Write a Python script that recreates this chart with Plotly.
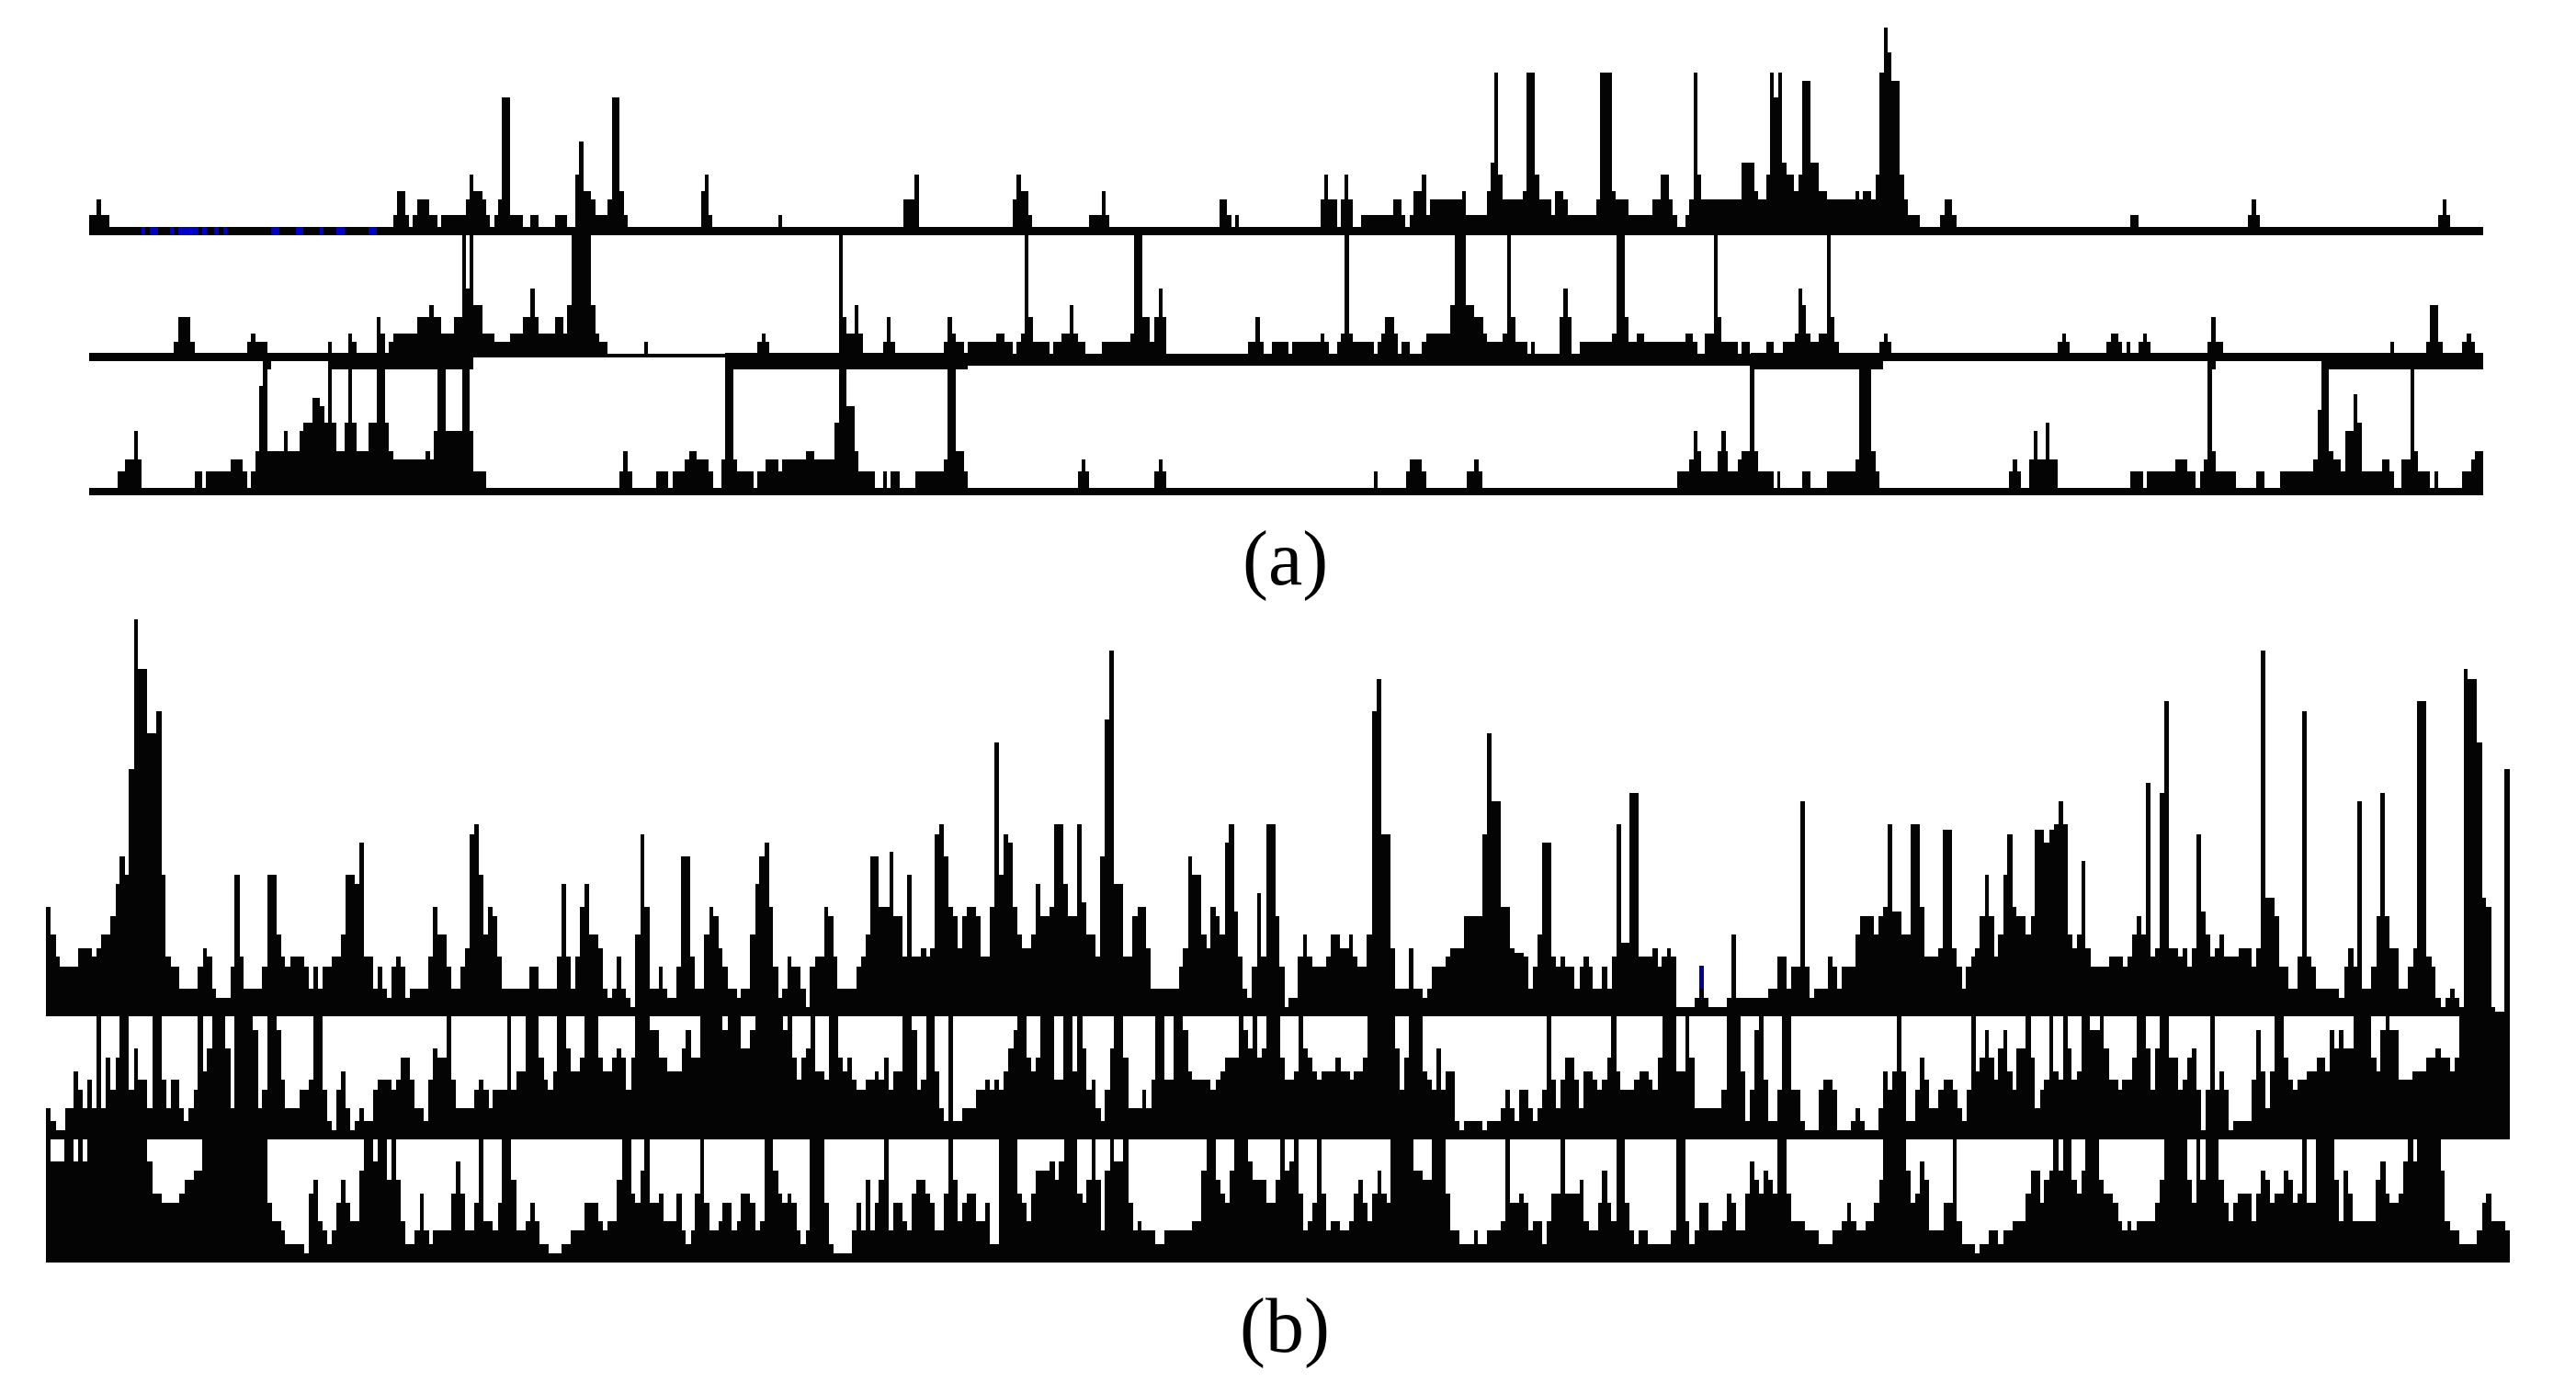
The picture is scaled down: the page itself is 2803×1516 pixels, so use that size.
import plotly.graph_objects as go

A1_LEFT = [(12,642),(27,590),(35,642),(50,682),(588,642),(596,563),(611,642),(618,682),(626,642),(634,590),(657,642),(672,682),(680,642),(726,590),(734,510),(741,563),(757,590),(765,642),(772,682),(780,642),(788,590),(795,257),(810,642),(834,682),(849,642),(864,682),(895,642),(918,682),(934,510),(941,403),(949,563),(964,590),(972,642),(995,590),(1003,257),(1018,563),(1026,642),(1033,682),(1172,563),(1179,510),(1187,642),(1194,682),(1318,642),(1325,682),(1556,590),(1568,None)]
A1_MID = [(17,590),(27,510),(35,682),(213,590),(220,510),(228,563),(243,642),(250,682),(358,642),(381,563),(389,642),(396,682),(604,590),(619,642),(627,682),(634,642),(642,682),(796,590),(803,510),(811,590),(827,682),(834,590),(842,510),(849,590),(857,682),(873,642),(934,590),(950,642),(957,682),(965,642),(972,563),(988,510),(996,642),(1003,590),(1065,563),(1072,642),(1111,563),(1119,470),(1126,177),(1133,510),(1141,590),(1179,563),(1187,177),(1203,510),(1210,590),(1233,642),(1241,563),(1256,590),(1264,642),(1318,590),(1326,177),(1348,563),(1356,590),(1379,642),(1425,590),(1441,510),(1456,590),(1464,642),(1472,682),(1487,642),(1495,590),(1503,177),(1510,510),(1518,590),(1568,None)]
A1_RIGHT = [(52,590),(78,470),(102,563),(110,590),(125,510),(132,177),(140,257),(148,177),(155,470),(163,510),(178,563),(186,510),(193,204),(209,470),(225,563),(240,590),(294,563),(301,590),(309,563),(324,590),(332,510),(340,177),(348,30),(355,110),(362,204),(378,510),(386,590),(394,642),(416,682),(455,642),(463,590),(478,642),(486,682),(816,642),(831,682),(1038,642),(1046,590),(1054,642),(1061,682),(1399,642),(1407,590),(1415,642),(1422,682),(1484,None)]
A1_BLUE = [(112,119),(128,143),(166,173),(181,219),(227,235),(250,258),(266,273),(358,373),(404,419),(450,457),(481,496),(542,557)]

A2_LEFT = [(12,434),(173,395),(181,315),(204,395),(212,434),(312,395),(319,368),(327,395),(350,434),(465,395),(473,434),(504,368),(511,395),(519,434),(558,315),(565,368),(573,434),(581,395),(588,368),(634,315),(657,275),(665,315),(680,368),(703,315),(719,48),(726,222),(733,48),(741,275),(757,368),(780,395),(811,368),(834,315),(849,222),(857,315),(864,368),(895,315),(911,368),(918,275),(926,48),(964,275),(972,368),(980,395),(995,434),(1064,395),(1071,434),(1279,395),(1287,368),(1294,395),(1302,434),(1433,48),(1441,315),(1448,368),(1464,275),(1471,368),(1479,434),(1517,395),(1525,315),(1532,395),(1540,434),(1568,None)]
A2_MID = [(17,434),(82,395),(89,315),(97,368),(105,395),(120,434),(128,395),(182,368),(197,395),(213,434),(220,395),(228,368),(236,48),(243,315),(251,395),(282,434),(289,395),(305,368),(320,275),(328,368),(336,395),(351,434),(382,395),(436,368),(443,48),(458,315),(473,395),(481,315),(489,222),(497,315),(504,434),(658,395),(673,315),(681,395),(688,434),(704,395),(735,434),(742,395),(796,368),(804,395),(812,434),(827,395),(835,368),(842,48),(850,368),(858,395),(897,434),(904,395),(912,368),(919,315),(935,368),(942,434),(950,395),(965,434),(988,395),(996,368),(1042,275),(1050,48),(1072,275),(1088,315),(1104,368),(1111,395),(1141,368),(1149,48),(1157,315),(1165,395),(1188,434),(1195,395),(1203,434),(1249,315),(1257,222),(1264,315),(1272,434),(1287,395),(1349,368),(1357,48),(1372,315),(1380,395),(1395,368),(1410,395),(1488,368),(1502,395),(1510,434),(1525,368),(1541,48),(1549,315),(1556,395),(1568,None)]
A2_RIGHT = [(52,395),(71,434),(78,395),(94,434),(125,395),(140,434),(156,395),(179,368),(186,222),(193,275),(201,368),(209,395),(225,368),(240,48),(248,315),(255,395),(263,434),(340,395),(348,368),(355,395),(362,434),(678,395),(686,368),(693,395),(700,434),(770,395),(778,368),(793,395),(800,434),(808,395),(815,434),(831,395),(839,368),(847,395),(854,434),(962,395),(969,315),(977,395),(992,434),(1308,395),(1315,434),(1376,395),(1384,275),(1399,395),(1407,434),(1445,395),(1453,368),(1461,395),(1469,434),(1484,None)]
# lower edge of the thick middle band in (a)
A2_UNDER_LEFT = [(12,460),(342,487),(357,460),(465,487),(740,447),(1217,487),(1568,None)]
A2_UNDER_MID = [(17,487),(127,473),(1568,None)]
A2_UNDER_RIGHT = [(52,473),(95,487),(347,460),(962,487),(977,460),(1177,487),(1484,None)]

A3_LEFT = [(12,873),(66,820),(81,780),(97,687),(104,780),(112,873),(212,820),(227,873),(234,820),(281,780),(304,820),(312,873),(319,820),(327,753),(335,540),(342,460),(350,753),(381,687),(389,753),(412,687),(419,660),(435,580),(450,607),(458,660),(465,460),(473,660),(481,753),(496,660),(504,487),(511,660),(519,753),(542,660),(557,487),(573,660),(581,753),(588,780),(650,753),(658,780),(665,687),(673,487),(688,687),(719,487),(733,687),(741,820),(765,873),(1018,820),(1025,753),(1033,820),(1041,873),(1087,820),(1110,873),(1118,820),(1141,780),(1149,753),(1164,780),(1187,820),(1195,873),(1210,780),(1218,447),(1233,780),(1241,820),(1272,873),(1279,820),(1295,780),(1318,820),(1325,780),(1371,753),(1387,780),(1425,660),(1433,487),(1448,607),(1463,753),(1471,820),(1502,873),(1517,820),(1525,873),(1532,820),(1548,873),(1568,None)]
A3_MID = [(17,873),(28,820),(82,780),(89,473),(105,753),(120,820),(128,873),(336,820),(343,780),(350,820),(358,873),(481,820),(489,780),(497,820),(504,873),(897,820),(904,873),(958,820),(965,780),(988,820),(996,873),(1073,820),(1088,780),(1096,820),(1103,873),(1472,820),(1495,780),(1503,687),(1510,753),(1518,820),(1549,753),(1556,687),(1564,753),(1568,None)]
A3_RIGHT = [(52,820),(71,780),(79,753),(94,473),(102,753),(110,820),(140,873),(147,820),(152,873),(194,820),(209,873),(240,820),(294,780),(301,487),(324,753),(332,820),(340,873),(585,820),(593,780),(601,820),(608,873),(624,780),(632,687),(639,780),(655,660),(662,780),(678,873),(816,820),(839,873),(847,820),(901,780),(924,820),(939,873),(947,820),(954,780),(962,460),(970,753),(977,820),(1016,873),(1054,820),(1069,873),(1100,820),(1162,780),(1170,620),(1177,460),(1192,753),(1200,780),(1215,820),(1223,687),(1238,567),(1246,660),(1254,820),(1292,780),(1307,820),(1315,873),(1330,780),(1346,487),(1353,753),(1361,820),(1384,873),(1392,820),(1399,873),(1445,820),(1461,780),(1469,753),(1484,None)]

B1_LEFT = [(17,701),(26,766),(35,818),(43,840),(77,798),(103,818),(111,798),(120,766),(137,722),(146,648),(154,584),(163,627),(171,380),(180,29),(188,146),(205,295),(222,243),(231,627),(239,818),(248,840),(265,893),(299,840),(308,798),(316,818),(325,893),(333,914),(359,840),(367,627),(376,818),(384,893),(418,840),(427,627),(444,766),(453,818),(461,840),(470,818),(496,840),(504,893),(513,840),(521,893),(530,840),(547,818),(564,766),(573,627),(590,648),(598,552),(607,818),(624,893),(632,840),(641,893),(650,914),(658,840),(667,818),(675,840),(684,914),(692,893),(726,818),(735,701),(743,766),(760,840),(769,893),(786,840),(795,798),(803,531),(811,509),(820,627),(828,766),(837,701),(846,722),(854,818),(863,893),(914,840),(931,893),(965,818),(973,648),(982,818),(991,893),(999,818),(1008,701),(1016,648),(1025,766),(1042,798),(1050,893),(1059,914),(1067,893),(1076,818),(1084,893),(1093,914),(1101,936),(1110,766),(1119,531),(1127,701),(1136,893),(1153,840),(1161,893),(1170,914),(1187,840),(1195,584),(1212,818),(1221,893),(1238,766),(1247,701),(1255,722),(1264,798),(1272,840),(1281,893),(1298,914),(1306,893),(1323,766),(1332,648),(1340,584),(1349,552),(1358,701),(1366,840),(1375,914),(1383,893),(1392,818),(1400,840),(1417,893),(1426,936),(1434,840),(1443,818),(1460,701),(1468,722),(1477,818),(1485,893),(1520,840),(1528,818),(1537,766),(1545,584),(1562,701),(1568,None)]
B1_MID = [(17,701),(30,573),(38,722),(55,818),(63,627),(72,818),(89,798),(98,818),(106,798),(115,531),(123,509),(131,584),(140,701),(149,722),(157,798),(165,722),(174,701),(191,722),(199,818),(216,701),(225,317),(233,627),(242,531),(251,552),(259,701),(268,766),(276,798),(293,766),(302,648),(310,722),(327,701),(336,509),(353,648),(361,722),(379,509),(387,690),(396,766),(413,818),(421,584),(430,264),(438,103),(447,648),(464,818),(481,722),(490,701),(507,798),(515,893),(567,840),(575,798),(584,584),(592,627),(609,766),(618,798),(626,701),(635,722),(643,766),(652,552),(660,509),(669,712),(677,818),(686,893),(694,914),(703,840),(712,669),(720,818),(729,509),(746,722),(754,840),(763,936),(771,914),(788,818),(797,766),(805,818),(814,840),(840,818),(848,766),(865,798),(882,766),(890,818),(899,840),(916,766),(925,243),(934,168),(942,531),(959,798),(968,893),(994,798),(1002,893),(1019,914),(1028,893),(1036,840),(1062,818),(1070,798),(1096,722),(1130,531),(1139,295),(1147,455),(1164,701),(1181,798),(1190,808),(1207,818),(1215,893),(1224,840),(1233,766),(1241,552),(1258,818),(1267,840),(1275,818),(1284,840),(1301,893),(1310,840),(1318,818),(1327,840),(1335,893),(1352,840),(1361,893),(1370,818),(1378,509),(1387,786),(1403,435),(1420,818),(1446,798),(1455,840),(1463,818),(1472,798),(1480,818),(1489,936),(1523,914),(1532,893),(1540,914),(1549,936),(1568,None)]
B1_RIGHT = [(51,936),(66,914),(75,766),(83,914),(143,893),(160,818),(177,893),(186,840),(203,455),(211,840),(220,914),(228,893),(254,818),(262,840),(271,893),(280,840),(305,766),(314,722),(339,766),(348,722),(356,701),(365,509),(373,712),(390,766),(407,509),(424,701),(433,818),(459,798),(467,520),(484,798),(493,840),(502,893),(510,840),(519,818),(527,798),(536,722),(545,627),(553,722),(562,818),(570,766),(579,627),(587,531),(596,701),(604,722),(621,766),(630,722),(638,520),(655,552),(664,520),(673,509),(681,455),(690,509),(698,766),(707,798),(715,766),(724,595),(732,798),(741,840),(775,818),(801,840),(809,818),(818,766),(826,722),(835,766),(843,412),(852,818),(860,798),(869,435),(878,221),(886,798),(903,818),(912,798),(920,840),(929,798),(938,531),(946,712),(955,766),(963,818),(972,798),(980,766),(989,818),(1015,798),(1040,840),(1049,798),(1057,103),(1066,680),(1083,722),(1091,840),(1108,893),(1125,818),(1134,243),(1142,818),(1151,840),(1159,893),(1202,914),(1211,840),(1219,798),(1228,840),(1236,455),(1245,893),(1262,840),(1271,722),(1279,435),(1287,722),(1296,798),(1313,893),(1330,840),(1339,798),(1347,221),(1364,818),(1373,840),(1381,914),(1390,936),(1399,914),(1407,893),(1416,914),(1424,936),(1433,146),(1441,168),(1458,317),(1467,680),(1475,701),(1484,936),(1492,947),(1509,380),(1518,None)]
B1_BLUE = [(1532,1540)]

B2_LEFT = [(17,1171),(26,1203),(35,1223),(52,1171),(69,1085),(77,1128),(86,1171),(94,1106),(103,1171),(111,957),(120,1171),(128,1053),(137,1128),(146,1053),(154,957),(171,1128),(180,1032),(188,1106),(205,1171),(214,957),(231,1106),(240,1171),(248,1106),(265,1171),(273,1203),(282,1171),(291,1128),(299,957),(308,1085),(316,1032),(325,957),(350,1032),(359,1171),(367,957),(401,990),(410,1171),(418,1128),(427,957),(444,990),(453,1106),(461,1171),(487,1128),(504,1106),(513,957),(530,1128),(538,1203),(547,1223),(556,1128),(564,1085),(573,1171),(581,1223),(590,1203),(598,1171),(607,1203),(624,1128),(632,1106),(658,1128),(667,1106),(675,1053),(692,1106),(700,1171),(718,1203),(726,1106),(735,1032),(743,1053),(760,957),(769,1106),(778,1171),(812,1128),(820,1106),(829,1128),(838,1171),(846,1128),(872,957),(880,1128),(889,1085),(906,957),(931,1053),(940,1106),(948,1128),(957,1085),(965,957),(982,1032),(991,1085),(1008,1053),(1016,957),(1042,1053),(1050,1085),(1067,1053),(1076,1032),(1084,1053),(1093,1128),(1102,1053),(1110,957),(1136,990),(1153,1053),(1170,1085),(1196,1032),(1204,990),(1213,1053),(1230,957),(1272,990),(1281,957),(1306,1032),(1323,990),(1332,957),(1384,990),(1392,957),(1401,1053),(1409,1106),(1418,1053),(1426,1032),(1435,957),(1443,1085),(1460,1106),(1469,957),(1486,1053),(1494,1085),(1503,1053),(1511,1106),(1520,1128),(1537,1106),(1554,1085),(1562,1106),(1568,None)]
B2_MID = [(17,1106),(20,1053),(29,1128),(38,1085),(55,957),(72,990),(81,1128),(89,1106),(98,957),(114,1085),(123,1171),(132,1203),(140,957),(148,1203),(165,1171),(191,1128),(208,1106),(217,1128),(225,1106),(234,1128),(242,1085),(251,1032),(260,990),(268,957),(285,1053),(294,1085),(302,1053),(311,957),(336,1106),(353,957),(370,1085),(379,957),(388,1032),(396,1128),(405,1106),(413,1171),(422,1203),(430,1128),(439,1032),(447,957),(464,1053),(473,1171),(499,1128),(507,1171),(516,1106),(524,957),(541,1106),(558,957),(575,990),(584,1085),(592,1106),(626,1128),(635,1106),(644,1085),(652,1053),(678,957),(687,990),(695,1032),(704,957),(712,1053),(721,1032),(729,957),(755,1053),(764,1106),(781,1085),(789,957),(798,1032),(807,1053),(815,1085),(824,1106),(832,1085),(858,1053),(867,1085),(884,1106),(892,1085),(909,1053),(917,957),(968,1032),(977,1128),(985,1053),(994,957),(1019,1085),(1028,1106),(1036,1128),(1045,1032),(1053,1128),(1062,1085),(1079,1203),(1088,1223),(1096,1203),(1130,1223),(1139,1203),(1164,1171),(1173,1128),(1181,1171),(1190,1203),(1198,1128),(1215,1171),(1224,1203),(1232,1171),(1241,1128),(1250,957),(1258,1106),(1267,1171),(1275,1106),(1284,1053),(1301,1106),(1309,1171),(1318,1085),(1335,1106),(1343,1128),(1352,1106),(1361,1053),(1369,957),(1378,1085),(1386,1128),(1412,1106),(1421,1085),(1438,1106),(1446,1128),(1455,1053),(1464,957),(1489,1085),(1506,957),(1514,1053),(1523,1171),(1568,None)]
B2_RIGHT = [(51,1171),(57,1128),(66,957),(92,1085),(100,1203),(109,1128),(117,990),(126,957),(135,1106),(143,1203),(160,1128),(169,957),(186,1128),(203,1203),(212,1223),(237,1128),(246,1106),(262,1128),(271,1223),(297,1203),(305,1171),(314,1203),(322,1223),(348,1171),(357,1085),(365,1128),(373,1085),(382,957),(390,1085),(399,1203),(416,1128),(425,1053),(433,1106),(442,1171),(459,1128),(468,1106),(485,1128),(494,1171),(502,1203),(511,1128),(519,957),(528,1085),(536,1053),(545,990),(553,1053),(562,1106),(570,1032),(579,990),(587,1085),(596,1128),(604,1032),(621,957),(630,1053),(638,1171),(647,1128),(655,1106),(664,957),(672,1085),(681,1106),(690,957),(698,1032),(706,1106),(715,1085),(724,957),(740,990),(758,957),(766,1032),(775,1106),(792,1128),(800,1106),(818,1053),(826,957),(843,1032),(852,1128),(860,1032),(869,957),(886,1053),(903,1128),(911,1106),(920,1053),(929,1032),(937,1128),(946,1223),(954,1128),(963,957),(971,1128),(980,1085),(988,1128),(997,1223),(1005,1203),(1040,1106),(1048,990),(1057,1085),(1066,1171),(1074,1085),(1083,957),(1100,1053),(1108,1106),(1117,1128),(1125,1106),(1142,1085),(1160,1053),(1176,1085),(1185,990),(1193,1032),(1202,990),(1210,1032),(1228,957),(1262,1053),(1271,1085),(1279,990),(1288,957),(1296,990),(1312,1106),(1338,1085),(1364,1053),(1381,1032),(1390,1053),(1407,1085),(1416,1053),(1424,957),(1518,None)]

B3_LEFT = [(17,1245),(26,1298),(51,1245),(68,1298),(77,1245),(85,1298),(94,1245),(205,1298),(214,1373),(231,1395),(265,1373),(274,1341),(291,1320),(307,1245),(427,1395),(436,1437),(453,1459),(461,1491),(496,1512),(504,1373),(513,1341),(521,1437),(530,1459),(538,1491),(547,1459),(556,1395),(564,1341),(573,1395),(581,1437),(598,1320),(607,1245),(624,1298),(632,1245),(649,1341),(658,1245),(666,1341),(675,1437),(684,1491),(701,1459),(710,1373),(718,1459),(727,1491),(735,1459),(769,1373),(778,1298),(786,1373),(795,1459),(812,1395),(820,1245),(829,1437),(846,1459),(855,1395),(863,1245),(880,1341),(889,1459),(906,1437),(915,1395),(923,1437),(932,1491),(949,1512),(974,1491),(991,1459),(1016,1395),(1042,1437),(1050,1459),(1059,1437),(1076,1341),(1085,1245),(1102,1373),(1110,1395),(1119,1320),(1127,1245),(1136,1395),(1153,1373),(1162,1437),(1187,1373),(1196,1459),(1204,1491),(1213,1459),(1221,1373),(1230,1245),(1238,1395),(1247,1459),(1264,1437),(1272,1395),(1289,1459),(1298,1437),(1306,1373),(1323,1395),(1332,1459),(1341,1437),(1349,1245),(1366,1320),(1375,1373),(1383,1395),(1392,1373),(1400,1395),(1409,1459),(1417,1491),(1426,1459),(1434,1245),(1460,1395),(1469,1491),(1477,1512),(1511,1459),(1520,1395),(1528,1459),(1537,1341),(1545,1459),(1554,1395),(1562,1341),(1568,None)]
B3_MID = [(17,1341),(20,1245),(29,1459),(38,1395),(55,1437),(63,1459),(72,1373),(80,1341),(97,1373),(106,1395),(115,1459),(132,1373),(140,1245),(148,1341),(157,1437),(165,1395),(174,1373),(191,1437),(208,1395),(217,1491),(234,1245),(268,1373),(276,1395),(285,1437),(293,1373),(302,1320),(328,1298),(337,1341),(345,1298),(354,1245),(379,1373),(388,1395),(396,1341),(405,1245),(413,1341),(422,1459),(430,1320),(439,1245),(447,1298),(464,1245),(473,1395),(482,1459),(490,1437),(498,1459),(524,1491),(541,1459),(592,1437),(609,1320),(618,1245),(635,1341),(644,1373),(652,1395),(661,1320),(669,1245),(695,1298),(704,1341),(729,1395),(746,1341),(755,1245),(764,1320),(772,1298),(781,1245),(789,1373),(798,1459),(807,1437),(815,1395),(824,1245),(832,1373),(841,1459),(849,1437),(866,1459),(883,1437),(892,1373),(900,1341),(909,1395),(917,1437),(926,1373),(935,1320),(943,1373),(952,1395),(960,1245),(1002,1320),(1019,1341),(1036,1245),(1062,1373),(1071,1459),(1088,1491),(1114,1459),(1122,1491),(1139,1459),(1164,1437),(1173,1245),(1181,1395),(1198,1373),(1207,1395),(1215,1459),(1224,1437),(1241,1491),(1250,1437),(1258,1373),(1275,1245),(1284,1373),(1310,1341),(1318,1437),(1327,1459),(1344,1395),(1352,1320),(1361,1395),(1369,1437),(1378,1245),(1394,1395),(1403,1459),(1412,1491),(1420,1459),(1437,1491),(1480,1459),(1489,1245),(1506,1437),(1514,1491),(1523,1459),(1532,1395),(1549,1459),(1568,None)]
B3_RIGHT = [(51,1459),(58,1437),(66,1373),(75,1395),(83,1459),(100,1373),(109,1298),(118,1341),(126,1373),(135,1320),(143,1341),(152,1373),(160,1245),(177,1373),(186,1437),(212,1459),(237,1491),(263,1459),(280,1437),(289,1395),(297,1437),(306,1459),(323,1437),(340,1395),(349,1341),(357,1245),(399,1320),(408,1395),(416,1373),(425,1298),(433,1341),(442,1459),(468,1395),(485,1245),(493,1437),(502,1491),(527,1512),(536,1491),(553,1459),(570,1491),(579,1459),(596,1437),(621,1373),(630,1320),(647,1395),(655,1341),(664,1320),(672,1245),(681,1320),(690,1245),(706,1341),(715,1373),(724,1320),(732,1245),(757,1341),(766,1373),(783,1395),(792,1437),(800,1459),(809,1437),(817,1459),(826,1437),(860,1395),(869,1341),(878,1245),(920,1341),(929,1395),(937,1245),(945,1341),(954,1245),(979,1341),(988,1395),(997,1437),(1006,1395),(1014,1373),(1040,1437),(1048,1373),(1057,1320),(1065,1341),(1074,1395),(1082,1373),(1099,1320),(1108,1341),(1116,1395),(1125,1373),(1134,1245),(1142,1395),(1159,1245),(1193,1341),(1202,1437),(1210,1320),(1219,1373),(1227,1437),(1270,1341),(1279,1298),(1288,1373),(1296,1395),(1313,1373),(1321,1298),(1330,1245),(1339,1298),(1347,1245),(1390,1320),(1398,1437),(1407,1459),(1424,1491),(1458,1459),(1467,1395),(1475,1373),(1484,1437),(1510,1459),(1518,None)]

LABELS = ["(a)", "(b)"]
INK = "#040404"
W, H = 2803, 1516

# crop origins and reading scales of the zoomed views
A_X0 = [90, 980, 1850]
A_SX = 1568 / 900
A_Y0_TOP, A_Y0_LOW, A_SY = 20, 240, 3.0
B_X0 = [40, 950, 1840]
B_SX = 1568 / 920
B_Y0, B_SY = 660, 1568 / 730

fig = go.Figure()


def add_runs(runs, x0, sx, y0, sy, bottom, color=INK):
    # whole chart units keep neighbouring bars from showing hairline seams
    xs = [round(x0 + r[0] / sx) for r in runs]
    fig.add_trace(go.Bar(
        x=xs[:-1],
        y=[round((bottom - r[1]) / sy) for r in runs[:-1]],
        width=[b - a for a, b in zip(xs[:-1], xs[1:])],
        offset=0, base=round(H - (y0 + bottom / sy)),
        marker=dict(color=color, line=dict(width=0)),
        hoverinfo="skip", showlegend=False,
    ))


def add_under(runs, x0, strip_top):
    # band below a row: hangs from the strip down to the read edge
    xs = [round(x0 + r[0] / A_SX) for r in runs]
    fig.add_trace(go.Bar(
        x=xs[:-1],
        y=[round((r[1] - strip_top) / A_SY) for r in runs[:-1]],
        width=[b - a for a, b in zip(xs[:-1], xs[1:])],
        offset=0,
        base=[round(H - (A_Y0_LOW + r[1] / A_SY)) for r in runs[:-1]],
        marker=dict(color=INK, line=dict(width=0)),
        hoverinfo="skip", showlegend=False,
    ))


for i, runs in enumerate([A1_LEFT, A1_MID, A1_RIGHT]):
    add_runs(runs, A_X0[i], A_SX, A_Y0_TOP, A_SY, 708)
for i, runs in enumerate([A2_LEFT, A2_MID, A2_RIGHT]):
    add_runs(runs, A_X0[i], A_SX, A_Y0_LOW, A_SY, 447)
for i, runs in enumerate([A3_LEFT, A3_MID, A3_RIGHT]):
    add_runs(runs, A_X0[i], A_SX, A_Y0_LOW, A_SY, 898)
for i, runs in enumerate([A2_UNDER_LEFT, A2_UNDER_MID, A2_UNDER_RIGHT]):
    add_under(runs, A_X0[i], 434)

for i, rows in enumerate(zip([B1_LEFT, B1_MID, B1_RIGHT], [B2_LEFT, B2_MID, B2_RIGHT], [B3_LEFT, B3_MID, B3_RIGHT])):
    add_runs(rows[0], B_X0[i], B_SX, B_Y0, B_SY, 957)
    add_runs(rows[1], B_X0[i], B_SX, B_Y0, B_SY, 1245)
    add_runs(rows[2], B_X0[i], B_SX, B_Y0, B_SY, 1534)

for a, b in A1_BLUE:
    add_runs([(a, 682), (b, None)], A_X0[0], A_SX, A_Y0_TOP, A_SY, 708, "#0000c8")
for a, b in B1_BLUE:
    add_runs([(a, 840), (b, None)], B_X0[1], B_SX, B_Y0, B_SY, 893, "#00009a")

fig.add_annotation(x=1398, y=H - 608, text=LABELS[0], showarrow=False,
                   font=dict(family="Liberation Serif", size=84, color="black"))
fig.add_annotation(x=1398, y=H - 1443, text=LABELS[1], showarrow=False,
                   font=dict(family="Liberation Serif", size=84, color="black"))

fig.update_layout(
    width=W, height=H, margin=dict(l=0, r=0, t=0, b=0),
    paper_bgcolor="white", plot_bgcolor="white", barmode="overlay",
    xaxis=dict(visible=False, range=[0, W], fixedrange=True),
    yaxis=dict(visible=False, range=[0, H], fixedrange=True),
    showlegend=False,
)
fig.write_html("out.html", post_script="document.body.style.margin='0';", config={"displayModeBar": False})
